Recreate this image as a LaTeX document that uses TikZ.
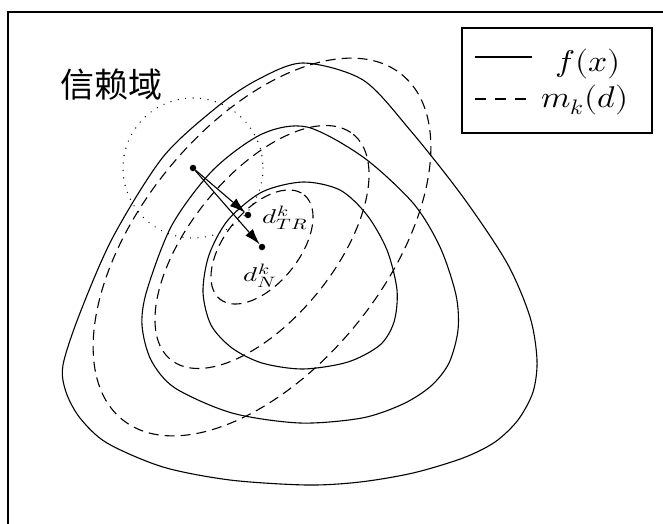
\documentclass[tikz,border=0pt]{standalone}
\usepackage{fontspec}
\usepackage{unicode-math}
\setmathfont{Latin Modern Math}
\newfontfamily\cjk{Noto Sans CJK SC}
\DeclareMathSizes{20}{20}{15}{12}
\usetikzlibrary{arrows.meta,positioning}

\begin{document}
\begin{tikzpicture}[x=1pt,y=-1pt,
  fcurve/.style={line width=1.1pt},
  mcurve/.style={line width=1.1pt, dash pattern=on 10pt off 6pt},
  dot/.style={circle, fill, inner sep=0pt, minimum size=6.5pt},
  passo/.style={line width=1.1pt, -{Latex[length=16pt,width=10pt]}},
  etich/.style={inner sep=0pt, font=\fontsize{20}{24}\selectfont},
  legtext/.style={inner sep=0pt, font=\fontsize{30}{36}\selectfont}]
  \useasboundingbox (0,0) rectangle (663,523);
  \clip (0,0) rectangle (663,523);

  % Cornice
  \draw[line width=1.8pt] (8,12) rectangle (700,560);

  % Curve di livello di f
  \draw[fcurve] plot[smooth cycle] coordinates {(303,63) (363,80) (410,130)
    (463,197) (507,263) (530,317) (537,360) (533,392) (518,420) (495,442)
    (463,458) (413,473) (360,482) (307,485) (230,480) (163,467) (107,443)
    (80,418) (66,392) (63,365) (80,313) (113,237) (163,157) (217,107) (257,80)};
  \draw[fcurve] plot[smooth cycle] coordinates {(307,127) (363,157) (413,203)
    (440,247) (456,295) (458,330) (449,363) (431,386) (403,404) (362,418)
    (300,423) (232,413) (175,388) (151,360) (142,325) (147,290) (172,225)
    (213,170) (262,134)};
  \draw[fcurve] plot[smooth cycle] coordinates {(303,182) (340,190) (367,215)
    (387,250) (397,290) (394,322) (380,345) (348,362) (303,369) (262,363)
    (232,348) (211,325) (203,292) (209,255) (228,220) (262,192)};

  % Modello m_k
  \coordinate (c) at (262,247);
  \draw[mcurve, rotate around={51:(c)}] (c) ellipse [x radius=222, y radius=122];
  \draw[mcurve, rotate around={51:(c)}] (c) ellipse [x radius=145, y radius=72];
  \draw[mcurve, rotate around={51:(c)}] (c) ellipse [x radius=67, y radius=37];

  % Regione di fiducia
  \node[dot] (xk) at (193,168) {};
  \draw[line width=1.4pt, line cap=round, dash pattern=on 0pt off 7.5pt] (xk) circle (70);
  \node[font=\cjk\fontsize{34}{40}\selectfont] (tr) at (111,85) {信赖域};

  % Passi
  \node[dot] (dtr) at (248,215) {};
  \node[dot] (dn) at (262,247) {};
  \draw[passo] (xk) -- (dtr);
  \draw[passo] (xk) -- (dn);
  \node[etich, right=11pt of dtr, yshift=-3pt] (ltr) {\scalebox{1.35}[1]{$d^k_{TR}$}};
  \node[etich, below=13pt of dn, xshift=-2pt] (ln) {\scalebox{1.35}[1]{$d^k_N$}};

  % Legenda
  \draw[line width=1.6pt] (462,28) rectangle (652,133);
  \coordinate (fa) at (475,57);
  \coordinate (fb) at (532,57);
  \draw[fcurve] (fa) -- (fb);
  \node[legtext] (lf) at (588,64) {\scalebox{1.12}[1]{$f(x)$}};
  \coordinate (ma) at (475,99);
  \coordinate (mb) at (528,99);
  \draw[line width=1.1pt, dash pattern=on 11pt off 9pt] (ma) -- (mb);
  \node[legtext] (lm) at (585,100) {\scalebox{1.12}[1]{$m_k(d)$}};
\end{tikzpicture}
\end{document}
